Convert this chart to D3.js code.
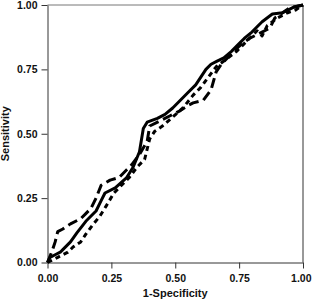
<!DOCTYPE html>
<html><head><meta charset="utf-8">
<script src="https://cdn.jsdelivr.net/npm/d3@7"></script>
<style>html,body{margin:0;padding:0;background:#fff;}svg{display:block;}</style>
</head><body>
<script>
const xTicks = [0, 0.25, 0.5, 0.75, 1];
const yTicks = [0, 0.25, 0.5, 0.75, 1];
const xTitle = "1-Specificity";
const yTitle = "Sensitivity";

const solidX = [0,0.01,0.03,0.05,0.06,0.09,0.115,0.15,0.19,0.21,0.225,0.265,0.31,0.335,0.36,0.375,0.39,0.43,0.46,0.49,0.52,0.55,0.58,0.60,0.62,0.64,0.66,0.69,0.72,0.75,0.77,0.80,0.84,0.88,0.92,0.96,1];
const solidY = [0,0.02,0.03,0.04,0.05,0.08,0.115,0.16,0.20,0.24,0.27,0.29,0.33,0.37,0.43,0.52,0.545,0.56,0.575,0.60,0.63,0.66,0.69,0.72,0.75,0.77,0.78,0.795,0.82,0.85,0.87,0.895,0.935,0.965,0.97,0.99,1];

const dashX = [0,0.02,0.03,0.04,0.06,0.09,0.13,0.15,0.17,0.19,0.21,0.245,0.28,0.31,0.33,0.36,0.39,0.40,0.44,0.48,0.52,0.55,0.57,0.61,0.64,0.66,0.68,0.71,0.75,0.79,0.83,0.87,0.89,0.92,0.95,1];
const dashY = [0,0.05,0.08,0.12,0.13,0.15,0.17,0.19,0.21,0.25,0.30,0.32,0.33,0.36,0.38,0.42,0.47,0.53,0.55,0.57,0.59,0.61,0.62,0.63,0.67,0.74,0.77,0.80,0.84,0.87,0.89,0.91,0.95,0.97,0.99,1];

const dotX = [0,0.02,0.04,0.06,0.08,0.10,0.13,0.15,0.18,0.205,0.23,0.26,0.30,0.32,0.35,0.38,0.39,0.40,0.42,0.45,0.49,0.53,0.57,0.60,0.63,0.66,0.70,0.74,0.77,0.80,0.82,0.84,0.86,0.90,0.94,0.97,1];
const dotY = [0,0.01,0.02,0.03,0.04,0.06,0.08,0.11,0.15,0.18,0.22,0.27,0.31,0.33,0.37,0.40,0.44,0.48,0.51,0.53,0.565,0.60,0.65,0.68,0.72,0.76,0.79,0.82,0.85,0.88,0.90,0.88,0.92,0.95,0.97,0.98,1];

const W = 312, H = 301;
const svg = d3.select("body").append("svg").attr("width", W).attr("height", H);
const x = d3.scaleLinear().domain([0,1]).range([47.5, 303]);
const y = d3.scaleLinear().domain([0,1]).range([262.5, 5]);

svg.append("line").attr("x1", x(0)).attr("x2", x(1)).attr("y1", y(1)).attr("y2", y(1)).attr("stroke", "#777").attr("stroke-width", 1);
svg.append("line").attr("x1", x(1)).attr("x2", x(1)).attr("y1", y(1)).attr("y2", y(0)).attr("stroke", "#333").attr("stroke-width", 1);

const fmt = d3.format(".2f");
const gx = svg.append("g").attr("transform", `translate(0,${y(0)})`)
  .call(d3.axisBottom(x).tickValues(xTicks).tickFormat(fmt).tickSize(6).tickSizeOuter(0));
const gy = svg.append("g").attr("transform", `translate(${x(0)},0)`)
  .call(d3.axisLeft(y).tickValues(yTicks).tickFormat(fmt).tickSize(6).tickSizeOuter(0));
[gx, gy].forEach(g => {
  g.selectAll("path,line").attr("stroke", "#333");
  g.selectAll("text").attr("font-family", "Liberation Sans, Arial, sans-serif")
    .attr("font-size", 10.5).attr("font-weight", "bold").attr("fill", "#111");
});
gx.selectAll("text").attr("dy", null).attr("y", 19);
gx.selectAll(".tick:last-of-type text").attr("text-anchor", "end").attr("x", 8);
gy.selectAll("text").attr("x", -10);

svg.append("text").attr("x", x(0.5)).attr("y", 297).attr("text-anchor", "middle")
  .attr("font-family", "Liberation Sans, Arial, sans-serif").attr("font-size", 11)
  .attr("font-weight", "bold").attr("fill", "#111").text(xTitle);
svg.append("text").attr("transform", `translate(9,${y(0.5)}) rotate(-90)`).attr("text-anchor", "middle")
  .attr("font-family", "Liberation Sans, Arial, sans-serif").attr("font-size", 11)
  .attr("font-weight", "bold").attr("fill", "#111").text(yTitle);

const line = d3.line().x(d => x(d[0])).y(d => y(d[1]));
const series = [
  {xs: solidX, ys: solidY, dash: null},
  {xs: dashX, ys: dashY, dash: "10,5"},
  {xs: dotX, ys: dotY, dash: "5,4"}
];
series.forEach(s => {
  svg.append("path").datum(s.xs.map((v,i) => [v, s.ys[i]]))
    .attr("d", line).attr("fill", "none").attr("stroke", "#000")
    .attr("stroke-width", 3).attr("stroke-linejoin", "round")
    .attr("stroke-dasharray", s.dash);
});
</script>
</body></html>
